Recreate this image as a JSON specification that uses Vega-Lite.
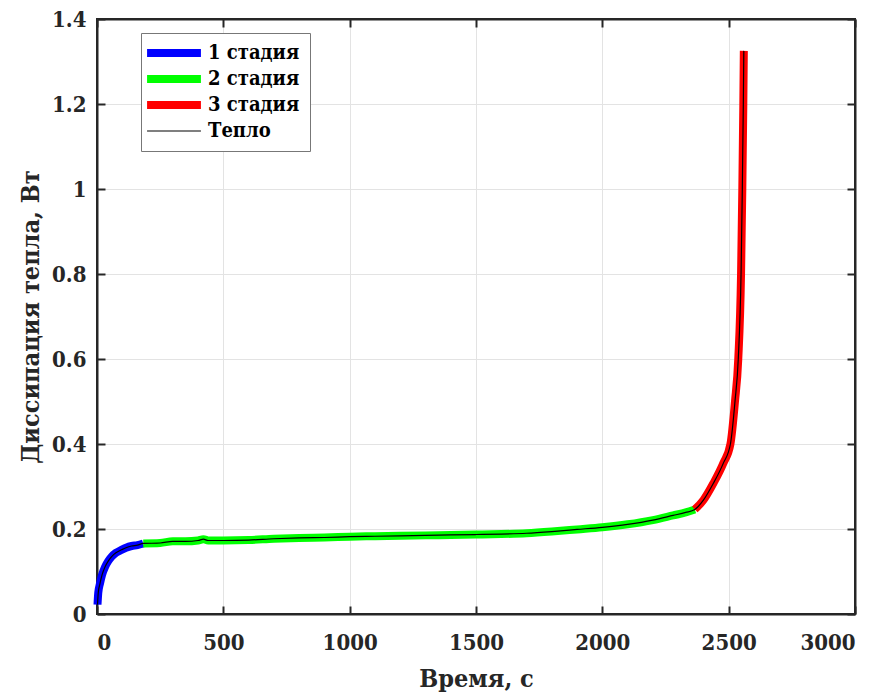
{
  "$schema": "https://vega.github.io/schema/vega-lite/v6.json",
  "autosize": {"type": "none"},
  "padding": {"left": 97, "top": 19, "right": 33, "bottom": 83},
  "width": 758,
  "height": 595,
  "background": "white",
  "config": {
    "view": {"stroke": "#262626", "strokeWidth": 2},
    "font": "DejaVu Serif Condensed, DejaVu Serif",
    "axis": {
      "labelFont": "DejaVu Serif Condensed, DejaVu Serif", "labelFontWeight": "bold", "labelFontSize": 22, "labelColor": "#262626",
      "titleFont": "DejaVu Serif Condensed, DejaVu Serif", "titleFontWeight": "bold", "titleFontSize": 25, "titleColor": "#262626",
      "domainColor": "#262626", "domainWidth": 2, "tickColor": "#262626", "tickWidth": 2,
      "gridColor": "#e3e3e3", "gridWidth": 1
    },
    "legend": {"labelFont": "DejaVu Serif Condensed, DejaVu Serif", "labelFontWeight": "bold", "labelFontSize": 20, "labelColor": "#000000"}
  },
  "data": {
    "values": [
      {"stage": "1 стадия", "t": 2, "q": 0.022},
      {"stage": "1 стадия", "t": 5, "q": 0.05},
      {"stage": "1 стадия", "t": 12, "q": 0.072},
      {"stage": "1 стадия", "t": 20, "q": 0.092},
      {"stage": "1 стадия", "t": 32, "q": 0.111},
      {"stage": "1 стадия", "t": 45, "q": 0.125},
      {"stage": "1 стадия", "t": 58, "q": 0.135},
      {"stage": "1 стадия", "t": 75, "q": 0.144},
      {"stage": "1 стадия", "t": 97, "q": 0.151},
      {"stage": "1 стадия", "t": 115, "q": 0.156},
      {"stage": "1 стадия", "t": 137, "q": 0.16},
      {"stage": "1 стадия", "t": 160, "q": 0.162},
      {"stage": "1 стадия", "t": 183, "q": 0.166},
      {"stage": "2 стадия", "t": 183, "q": 0.166},
      {"stage": "2 стадия", "t": 250, "q": 0.167},
      {"stage": "2 стадия", "t": 300, "q": 0.171},
      {"stage": "2 стадия", "t": 350, "q": 0.171},
      {"stage": "2 стадия", "t": 400, "q": 0.173},
      {"stage": "2 стадия", "t": 421, "q": 0.176},
      {"stage": "2 стадия", "t": 440, "q": 0.173},
      {"stage": "2 стадия", "t": 500, "q": 0.173},
      {"stage": "2 стадия", "t": 600, "q": 0.174},
      {"stage": "2 стадия", "t": 700, "q": 0.177},
      {"stage": "2 стадия", "t": 800, "q": 0.179},
      {"stage": "2 стадия", "t": 900, "q": 0.18},
      {"stage": "2 стадия", "t": 1000, "q": 0.182},
      {"stage": "2 стадия", "t": 1100, "q": 0.183},
      {"stage": "2 стадия", "t": 1200, "q": 0.184},
      {"stage": "2 стадия", "t": 1300, "q": 0.185},
      {"stage": "2 стадия", "t": 1400, "q": 0.186},
      {"stage": "2 стадия", "t": 1500, "q": 0.187},
      {"stage": "2 стадия", "t": 1600, "q": 0.188},
      {"stage": "2 стадия", "t": 1700, "q": 0.19},
      {"stage": "2 стадия", "t": 1800, "q": 0.194},
      {"stage": "2 стадия", "t": 1900, "q": 0.199},
      {"stage": "2 стадия", "t": 2000, "q": 0.204},
      {"stage": "2 стадия", "t": 2100, "q": 0.211},
      {"stage": "2 стадия", "t": 2200, "q": 0.221},
      {"stage": "2 стадия", "t": 2280, "q": 0.232},
      {"stage": "2 стадия", "t": 2330, "q": 0.239},
      {"stage": "2 стадия", "t": 2366, "q": 0.246},
      {"stage": "3 стадия", "t": 2366, "q": 0.246},
      {"stage": "3 стадия", "t": 2400, "q": 0.268},
      {"stage": "3 стадия", "t": 2439, "q": 0.307},
      {"stage": "3 стадия", "t": 2479, "q": 0.355},
      {"stage": "3 стадия", "t": 2507, "q": 0.4},
      {"stage": "3 стадия", "t": 2525, "q": 0.5},
      {"stage": "3 стадия", "t": 2538, "q": 0.6},
      {"stage": "3 стадия", "t": 2549, "q": 0.8},
      {"stage": "3 стадия", "t": 2554, "q": 1.0},
      {"stage": "3 стадия", "t": 2558, "q": 1.2},
      {"stage": "3 стадия", "t": 2560, "q": 1.325}
    ]
  },
  "layer": [
    {
      "mark": {"type": "line", "strokeCap": "butt", "strokeJoin": "round", "interpolate": "monotone", "strokeWidth": 8},
      "encoding": {
        "x": {"field": "t", "type": "quantitative", "scale": {"domain": [0, 3000], "nice": false},
          "axis": {"title": "Время, с", "orient": "bottom", "format": "d", "values": [0, 500, 1000, 1500, 2000, 2500, 3000], "tickSize": -8, "labelPadding": 26, "titlePadding": 13, "grid": true}},
        "y": {"field": "q", "type": "quantitative", "scale": {"domain": [0, 1.4], "nice": false},
          "axis": {"title": "Диссипация тепла, Вт", "orient": "left", "format": "~g", "values": [0, 0.2, 0.4, 0.6, 0.8, 1, 1.2, 1.4], "tickSize": -8, "labelPadding": 19, "titlePadding": 8, "grid": true}},
        "color": {"field": "stage", "type": "nominal",
          "scale": {"domain": ["1 стадия", "2 стадия", "3 стадия", "Тепло"], "range": ["#0000ff", "#00ff00", "#ff0000", "#000000"]},
          "legend": {"title": null, "orient": "none", "legendX": 44, "legendY": 14, "symbolType": "stroke", "symbolSize": 2900,
            "strokeColor": "#777777", "fillColor": "white", "padding": 10, "rowPadding": -33, "labelOffset": 24, "symbolOffset": 13,
            "encode": {"symbols": {"enter": {"strokeWidth": {"signal": "datum.index === 3 ? 1.2 : 8"}}, "update": {"strokeWidth": {"signal": "datum.index === 3 ? 1.2 : 8"}}}}}},
        "order": {"field": "t", "type": "quantitative"}
      }
    },
    {
      "mark": {"type": "line", "color": "#000000", "strokeWidth": 1.2, "interpolate": "monotone"},
      "encoding": {
        "x": {"field": "t", "type": "quantitative", "axis": {"orient": "top", "title": null, "labels": false, "tickSize": -8, "grid": false, "values": [0, 500, 1000, 1500, 2000, 2500, 3000]}},
        "y": {"field": "q", "type": "quantitative", "axis": {"orient": "right", "title": null, "labels": false, "tickSize": -8, "grid": false, "values": [0, 0.2, 0.4, 0.6, 0.8, 1, 1.2, 1.4]}},
        "order": {"field": "t", "type": "quantitative"}
      }
    }
  ]
}
